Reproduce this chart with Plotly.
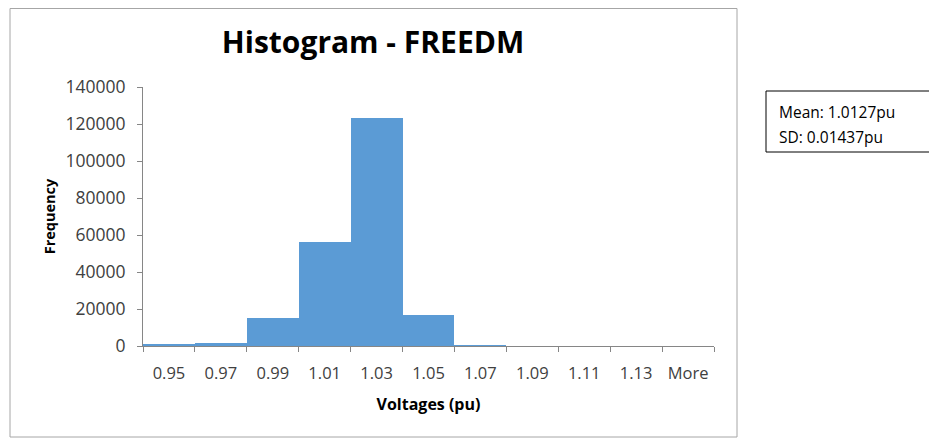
import plotly.graph_objects as go

categories = ["0.95", "0.97", "0.99", "1.01", "1.03", "1.05", "1.07", "1.09", "1.11", "1.13", "More"]
frequency = [600, 1500, 15200, 56000, 123300, 16900, 500, 0, 0, 0, 0]
y_ticks = [0, 20000, 40000, 60000, 80000, 100000, 120000, 140000]

# page body has an 8px margin; work in window pixels and shift
OFF = 8
W, H = 937 - OFF, 441 - OFF
L, R, T, B = 143 - OFF, 714 - OFF, 87 - OFF, 346 - OFF
FONT = "Open Sans, Liberation Sans, sans-serif"


def px(x):
    return (x - OFF - L) / (R - L)


def py(y):
    return (B - (y - OFF)) / (B - T)


fig = go.Figure(go.Bar(
    x=categories, y=frequency,
    marker=dict(color="#5B9BD5", line=dict(width=0)),
    width=1.0,
))

fig.update_layout(
    width=W, height=H,
    margin=dict(l=L, r=W - R, t=T, b=H - B),
    paper_bgcolor="white", plot_bgcolor="white",
    bargap=0,
    showlegend=False,
    font=dict(family=FONT, color="#404040", size=17),
    title=dict(text="<b>Histogram - FREEDM</b>", x=(373 - OFF) / W, xanchor="center",
               y=1 - (42 - OFF) / H, yanchor="middle",
               font=dict(family=FONT, size=30, color="#000000")),
)

fig.update_xaxes(
    type="category", tickson="boundaries",
    ticks="outside", ticklen=5, tickcolor="#868686",
    showline=True, linecolor="#868686", linewidth=1,
    showgrid=False, zeroline=False,
    tickangle=0,
    tickfont=dict(size=16.5, color="#404040"),
    ticklabelstandoff=12,
    title=dict(text="<b>Voltages (pu)</b>", font=dict(size=16, color="#000000"), standoff=16),
    range=[-0.5, len(categories) - 0.5],
)
fig.update_yaxes(
    range=[0, 140000], tickvals=y_ticks, ticktext=[str(v) for v in y_ticks],
    ticks="outside", ticklen=5, tickcolor="#868686",
    showline=True, linecolor="#868686", linewidth=1,
    showgrid=False, zeroline=False,
    tickfont=dict(size=17.5, color="#404040"),
    ticklabelstandoff=8,
    title=dict(text="<b>Frequency</b>", font=dict(size=14.5, color="#000000"), standoff=6),
)

# chart area border (top edge sits at the top of the figure)
fig.add_shape(type="rect", xref="paper", yref="paper",
              x0=px(10), x1=px(737), y0=py(437), y1=py(8.5),
              line=dict(color="#A6A6A6", width=1), fillcolor="rgba(0,0,0,0)", layer="below")

# stats text box
fig.add_shape(type="rect", xref="paper", yref="paper",
              x0=px(766), x1=px(936.5), y0=py(152), y1=py(91),
              line=dict(color="#000000", width=1), fillcolor="white")
stats_lines = ["Mean: 1.0127pu", "SD: 0.01437pu"]
for txt, yy in zip(stats_lines, [111.5, 136.5]):
    fig.add_annotation(xref="paper", yref="paper",
                       x=px(777), y=py(yy),
                       xanchor="left", yanchor="middle", align="left",
                       text=txt, showarrow=False,
                       font=dict(family=FONT, size=15.5, color="#000000"))

fig.write_html("out.html")
